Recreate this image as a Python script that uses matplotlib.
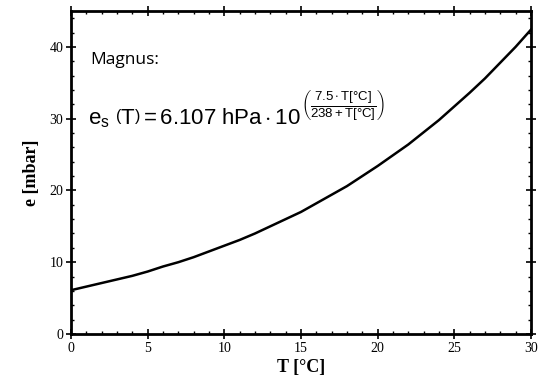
#!/usr/bin/env python3
"""Saturation vapour pressure over water (Magnus), 0..30 degC."""
import matplotlib
matplotlib.use('Agg')
import matplotlib.pyplot as plt
from matplotlib.ticker import MultipleLocator

# values, one per degree
temp_c = [0, 1, 2, 3, 4, 5, 6, 7, 8, 9, 10, 11, 12, 13, 14, 15,
          16, 17, 18, 19, 20, 21, 22, 23, 24, 25, 26, 27, 28, 29, 30]
e_mbar = [6.1, 6.6, 7.1, 7.6, 8.1, 8.7, 9.4, 10.0, 10.7, 11.5, 12.3,
          13.1, 14.0, 15.0, 16.0, 17.0, 18.2, 19.4, 20.6, 22.0, 23.4,
          24.9, 26.4, 28.1, 29.8, 31.7, 33.6, 35.6, 37.8, 40.0, 42.4]

x_ticks = [0, 5, 10, 15, 20, 25, 30]
y_ticks = [0, 10, 20, 30, 40]

plt.rcParams['mathtext.fontset'] = 'custom'
plt.rcParams['mathtext.rm'] = 'Liberation Sans'
plt.rcParams['mathtext.it'] = 'Liberation Sans'
plt.rcParams['mathtext.bf'] = 'Liberation Sans:bold'

fig = plt.figure(figsize=(5.44, 3.85), dpi=100)
ax = fig.add_axes([0.1305, 0.1325, 0.8455, 0.839])

ax.plot(temp_c, e_mbar, color='black', lw=1.8)

ax.set_xlim(0, 30)
ax.set_ylim(0, 45)
ax.set_xticks(x_ticks)
ax.set_yticks(y_ticks)
ax.xaxis.set_minor_locator(MultipleLocator(1))
ax.yaxis.set_minor_locator(MultipleLocator(2))
ax.tick_params(which='major', direction='inout', length=7, width=1.2,
               top=True, right=True, labelsize=10, pad=2)
ax.tick_params(which='minor', direction='in', length=2.5, width=1.0,
               top=True, right=True)
for lbl in ax.get_xticklabels() + ax.get_yticklabels():
    lbl.set_fontfamily('Liberation Serif')
for sp in ax.spines.values():
    sp.set_linewidth(2)

ax.set_xlabel('T [°C]', fontfamily='Liberation Serif', fontweight='bold',
              fontsize=13, labelpad=3)
ax.set_ylabel('e [mbar]', fontfamily='Liberation Serif', fontweight='bold',
              fontsize=13, labelpad=7)

ax.text(1.25, 38.2, 'Magnus:', fontfamily='Open Sans', fontsize=12.5,
        va='center', ha='left')

# main part of the formula, then the exponent hung on its upper right corner
main = ax.text(1.1, 30.0,
               r'$\mathrm{e_s\ \left(T\right) = 6.107\ hPa\cdot 10}$',
               fontsize=16, va='center', ha='left')
ax.annotate(r'$\left(\dfrac{7.5\cdot T[°C]}{238+T[°C]}\right)$',
            xy=(1, 1), xycoords=main, xytext=(0, 1),
            textcoords='offset points', fontsize=9.5,
            va='center', ha='left')

fig.savefig('out.png', dpi=100)
plt.close(fig)
